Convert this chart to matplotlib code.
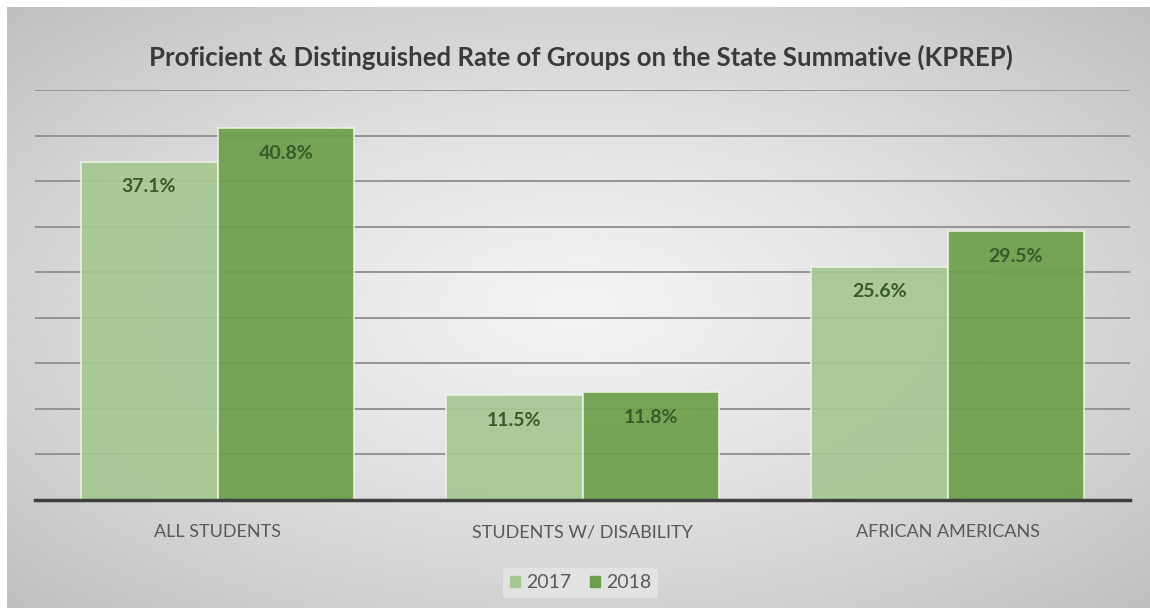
import numpy as np
import matplotlib
matplotlib.use("Agg")
import matplotlib.pyplot as plt
from matplotlib.patches import Patch

# Données du graphique
categories = ["ALL STUDENTS", "STUDENTS W/ DISABILITY", "AFRICAN AMERICANS"]
years = ["2017", "2018"]
rate_2017 = [37.1, 11.5, 25.6]
rate_2018 = [40.8, 11.8, 29.5]
title = "Proficient & Distinguished Rate of Groups on the State Summative (KPREP)"

plt.rcParams['font.family'] = ['Lato', 'DejaVu Sans']

fig = plt.figure(figsize=(11.5, 6.08), dpi=100)
fig.patch.set_facecolor("white")

# Fond en dégradé radial
bg = fig.add_axes([7 / 1150, 0, 1 - 7 / 1150, 1 - 7 / 608])
yy, xx = np.mgrid[-1:1:300j, -1:1:600j]
r = np.sqrt(xx ** 2 + yy ** 2) / np.sqrt(2)
shade = 0.95 - 0.2 * r ** 1.3
bg.imshow(shade, cmap="gray", vmin=0, vmax=1, aspect="auto",
          extent=[0, 1, 0, 1], interpolation="bilinear")
bg.set_axis_off()

ax = fig.add_axes([35 / 1150, 1 - 500 / 608, 1095 / 1150, 410 / 608])
ax.patch.set_alpha(0)

x = np.arange(len(categories))
w = 0.375
c17 = "#a6c892"
c18 = "#6c9f4a"
b1 = ax.bar(x - w / 2, rate_2017, w, color=c17, alpha=0.92,
            edgecolor="#eef5e8", linewidth=1.2, zorder=3)
b2 = ax.bar(x + w / 2, rate_2018, w, color=c18, alpha=0.92,
            edgecolor="#eef5e8", linewidth=1.2, zorder=3)

for bars, vals in ((b1, rate_2017), (b2, rate_2018)):
    for bar, v in zip(bars, vals):
        ax.annotate(f"{v:.1f}%", (bar.get_x() + bar.get_width() / 2, v),
                    xytext=(0, -18), textcoords="offset points",
                    ha="center", va="center", fontsize=14,
                    fontweight="bold", color="#375a27", zorder=5)

ax.set_xlim(-0.5, 2.5)
ax.set_ylim(0, 45)
ax.set_yticks(np.arange(5, 46, 5))
ax.yaxis.grid(True, color="#949494", linewidth=1.4, zorder=1)
ax.set_axisbelow(True)
ax.tick_params(axis="y", left=False, labelleft=False)
ax.tick_params(axis="x", bottom=False, pad=14, labelsize=13,
               labelcolor="#595959")
ax.set_xticks(x)
ax.set_xticklabels(categories)
for s in ("top", "left", "right"):
    ax.spines[s].set_visible(False)
ax.spines["bottom"].set_color("#3f3f3f")
ax.spines["bottom"].set_linewidth(2.5)
ax.spines["bottom"].set_zorder(6)

fig.text(0.505, 1 - 57 / 608, title, ha="center", va="center",
         fontsize=18.5, fontweight="bold", color="#3a3a3a")

handles = [Patch(color=c17, label=years[0]), Patch(color=c18, label=years[1])]
leg = fig.legend(handles=handles, loc="center", bbox_to_anchor=(0.505, 1 - 583 / 608),
                 ncol=2, frameon=True, fontsize=14, handlelength=0.5,
                 handleheight=0.5, handletextpad=0.3, columnspacing=1.0,
                 borderpad=0.35)
leg.get_frame().set_facecolor("#e6e6e6")
leg.get_frame().set_edgecolor("none")
leg.get_frame().set_alpha(0.8)
for t in leg.get_texts():
    t.set_color("#595959")

plt.savefig("out.png", dpi=100)
